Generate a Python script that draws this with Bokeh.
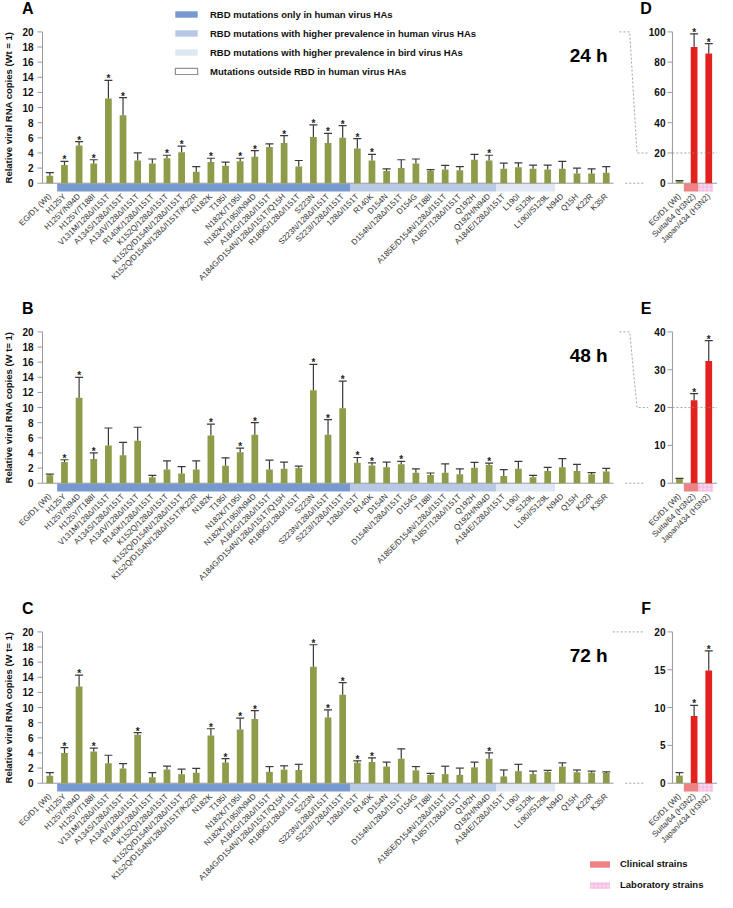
import math
from bokeh.plotting import figure
from bokeh.models import Range1d, ColumnDataSource, Label, Legend, LegendItem
from bokeh.layouts import column
from bokeh.embed import file_html
from bokeh.resources import INLINE
from bokeh.core.properties import value

# ---------------- data ----------------
mutations = ["EG/D1 (Wt)", "H125Y", "H125Y/N94D", "H125Y/T188I", "V131M/128Δ/I151T",
             "A134S/128Δ/I151T", "A134V/128Δ/I151T", "R140K/128Δ/I151T", "K152Q/128Δ/I151T",
             "K152Q/D154N/128Δ/I151T", "K152Q/D154N/128Δ/I151T/K22R", "N182K", "T195I",
             "N182K/T195I", "N182K/T195I/N94D", "A184G/128Δ/I151T", "A184G/D154N/128Δ/I151T/Q15H",
             "R189G/128Δ/I151T", "S223N", "S223N/128Δ/I151T", "S223I/128Δ/I151T", "128Δ/I151T",
             "R140K", "D154N", "D154N/128Δ/I151T", "D154G", "T188I", "A185E/D154N/128Δ/I151T",
             "A185T/128Δ/I151T", "Q192H", "Q192H/N94D", "A184E/128Δ/I151T", "L190I", "S129L",
             "L190I/S129L", "N94D", "Q15H", "K22R", "K35R"]
groups = (["wt"] + ["only"] * 20 + ["human"] * 10 + ["bird"] * 4 + ["outside"] * 4)

group_labels = {"only": "RBD mutations only in human virus HAs",
                "human": "RBD mutations with higher prevalence in human virus HAs",
                "bird": "RBD mutations with higher prevalence in bird virus HAs",
                "outside": "Mutations outside RBD in human virus HAs"}

y_ticks = [0, 2, 4, 6, 8, 10, 12, 14, 16, 18, 20]

# 24 h
v24 = [1.0, 2.4, 5.0, 2.6, 11.2, 9.0, 3.0, 2.6, 3.3, 4.1, 1.5, 2.8, 2.3, 2.9, 3.5, 4.8, 5.3, 2.2, 6.1,
       5.3, 6.0, 4.6, 3.0, 1.6, 2.0, 2.6, 1.65, 1.8, 1.7, 3.1, 3.0, 1.9, 2.1, 1.9, 1.8, 1.9, 1.3, 1.3, 1.4]
c24 = [1.4, 2.9, 5.5, 3.1, 13.6, 11.3, 4.0, 3.2, 3.7, 4.9, 2.2, 3.3, 2.8, 3.3, 4.3, 5.2, 6.3, 3.0, 7.7,
       6.6, 7.6, 5.9, 3.8, 1.9, 3.1, 3.2, 1.8, 2.35, 2.2, 3.8, 3.7, 2.65, 2.7, 2.4, 2.4, 2.9, 2.0, 1.9, 2.2]
s24 = [1, 2, 3, 4, 5, 8, 9, 11, 13, 14, 16, 18, 19, 20, 21, 22, 30]

# 48 h
v48 = [1.05, 2.8, 11.3, 3.2, 5.0, 3.7, 5.6, 0.8, 1.8, 1.3, 1.8, 6.3, 2.3, 4.1, 6.4, 1.8, 1.9, 2.0, 12.3,
       6.4, 9.9, 2.7, 2.35, 2.1, 2.5, 1.4, 1.1, 1.4, 1.2, 2.05, 2.4, 0.95, 1.9, 0.8, 1.6, 2.1, 1.6, 1.2,
       1.55]
c48 = [1.2, 3.1, 14.0, 4.0, 7.3, 5.4, 7.4, 1.05, 2.95, 2.2, 2.95, 7.8, 3.35, 4.65, 8.0, 3.05, 2.8, 2.25,
       15.7, 8.4, 13.5, 3.4, 2.7, 2.8, 2.9, 1.9, 1.35, 2.55, 1.9, 2.75, 2.65, 1.8, 2.9, 1.05, 2.1, 3.25,
       2.5, 1.4, 1.95]
s48 = [1, 2, 3, 11, 13, 14, 18, 19, 20, 21, 22, 24, 30]

# 72 h
v72 = [1.0, 4.0, 12.8, 4.2, 2.65, 1.95, 6.4, 0.8, 1.8, 1.2, 1.4, 6.3, 2.75, 7.1, 8.5, 1.5, 1.8, 1.75,
       15.4, 8.7, 11.7, 2.7, 2.8, 2.2, 3.25, 1.7, 1.1, 1.2, 1.1, 2.1, 3.25, 0.9, 1.6, 1.2, 1.5, 2.2,
       1.45, 1.4, 1.35]
c72 = [1.4, 4.7, 14.3, 4.65, 3.7, 2.6, 6.7, 1.4, 2.25, 1.85, 1.95, 7.2, 3.25, 8.6, 9.6, 2.2, 2.3, 2.5,
       18.3, 9.7, 13.3, 2.95, 3.35, 2.8, 4.55, 2.2, 1.3, 2.25, 2.0, 2.8, 4.0, 1.75, 2.5, 1.6, 1.7, 2.7,
       1.75, 1.6, 1.5]
s72 = [1, 2, 3, 6, 11, 12, 13, 14, 18, 19, 20, 21, 22, 30]

# reference strains (insets D, E, F)
strains = ["EG/D1 (Wt)", "Suita/64 (H3N2)", "Japan/434 (H3N2)"]
strain_kind = ["wt", "clinical", "laboratory"]
kind_labels = {"clinical": "Clinical strains", "laboratory": "Laboratory strains"}
d24 = [1.3, 90.0, 85.7]
dc24 = [1.7, 98.7, 92.2]
e48 = [1.1, 21.9, 32.3]
ec48 = [1.3, 23.7, 37.7]
f72 = [1.0, 8.9, 14.9]
fc72 = [1.4, 10.3, 17.5]
inset_stars = [1, 2]

# ---------------- style / layout ----------------
FONTNAME = "Liberation Sans"
FONT = value(FONTNAME)
OLIVE = "#8e9c4a"
RED = "#e3211f"
ERR = "#3a3a3a"
AXC = "#9a9a9a"
DASH = "#8c8c8c"
BAND = {"only": "#7899cf", "human": "#b6c8e4", "bird": "#dfe7f3"}
SALMON = "#ef8282"
PINK = "#fbd7ef"

W = 717
SLOT = 14.643        # px per category slot
LEFT_PX = 42         # px from canvas left to the main y axis
XS = -0.5 - LEFT_PX / SLOT
XE = XS + W / SLOT
PXU = 7.566          # px per unit on the main y axis
TOP20 = 31.4         # px between canvas top and the 20 level
YE = 20 + TOP20 / PXU
INSET0 = 43          # slot of the first inset bar
AX = 42.52           # slot of the inset y axis
BAR_W = 0.46
LBL_DROP = 12        # px from the zero line down to the category label anchor

def px(dx):
    return dx / SLOT

def build_row(letter, iletter, hours, vals, caps, stars, ivals, icaps, imax, istep, ytitle,
              height, legend_kind=None):
    factor = imax / 20.0
    YS = YE - height / PXU
    p = figure(width=W, height=height, x_range=Range1d(XS, XE), y_range=Range1d(YS, YE),
               output_backend="svg", toolbar_location=None, min_border=0,
               x_axis_type=None, y_axis_type=None)
    p.extra_y_ranges = {"inset": Range1d(YS * factor, YE * factor)}
    p.outline_line_color = None
    p.background_fill_color = "white"
    p.border_fill_color = "white"

    n = len(mutations)
    xs = list(range(n))

    # group bands below the axis
    band_r = {}
    for key in ["only", "human", "bird"]:
        idx = [i for i, g in enumerate(groups) if g == key]
        band_r[key] = p.quad(left=[min(idx) - 0.5], right=[max(idx) + 0.5], top=[-0.05],
                             bottom=[-1.1], fill_color=BAND[key], line_color=None)
    # legend swatch only (outside group has no visible band in the chart)
    band_r["outside"] = p.quad(left=[XE + 1], right=[XE + 2], top=[-0.05], bottom=[-1.1],
                               fill_color="white", line_color="#555555", line_width=0.8)

    # main axes
    p.segment(x0=[-0.5], y0=[0], x1=[n - 0.5], y1=[0], line_color=AXC, line_width=1)
    p.segment(x0=[-0.5], y0=[0], x1=[-0.5], y1=[20], line_color=AXC, line_width=1)
    p.segment(x0=[-0.5 - px(5)] * len(y_ticks), y0=y_ticks, x1=[-0.5] * len(y_ticks), y1=y_ticks,
              line_color=AXC, line_width=1)
    p.text(x=[-0.5 - px(9)] * len(y_ticks), y=y_ticks, text=[str(t) for t in y_ticks],
           text_align="right", text_baseline="middle", text_font=FONT, text_font_size="10px",
           text_font_style="bold", text_color="#111")
    p.text(x=[XS + px(7.5)], y=[10], text=[ytitle], angle=math.pi / 2, text_align="center",
           text_baseline="middle", text_font=FONT, text_font_size="9.5px",
           text_font_style="bold", text_color="#111")

    src = ColumnDataSource(dict(x=xs, v=vals, cap=caps))
    p.vbar(x="x", top="v", bottom=0, width=BAR_W, source=src, fill_color=OLIVE, line_color=None)
    p.segment(x0="x", y0="v", x1="x", y1="cap", source=src, line_color=ERR, line_width=1.2)
    p.scatter(x="x", y="cap", marker="dash", size=8, source=src, line_color=ERR, line_width=1.2)
    ssrc = ColumnDataSource(dict(x=[xs[i] for i in stars], y=[caps[i] for i in stars],
                                 t=["*"] * len(stars)))
    p.text(x="x", y="y", text="t", source=ssrc, text_align="center", text_baseline="alphabetic",
           text_font=FONT, text_font_size="10px", text_font_style="bold", text_color="#222",
           y_offset=-1.5)

    # inset (reference strains)
    ix = [INSET0 + j for j in range(len(strains))]
    isrc = ColumnDataSource(dict(x=ix, v=ivals, cap=icaps,
                                 c=[OLIVE if k == "wt" else RED for k in strain_kind]))
    blk_r = {}
    for k, col, hatch in [("clinical", SALMON, None), ("laboratory", PINK, "cross")]:
        j = strain_kind.index(k)
        kw = dict(fill_color=col, line_color=None)
        if hatch:
            kw.update(hatch_pattern=hatch, hatch_color="#f3a6d6", hatch_scale=4, hatch_weight=0.7)
        blk_r[k] = p.quad(left=[ix[j] - 0.7], right=[ix[j] + 0.3], top=[-0.05], bottom=[-1.1], **kw)
    p.segment(x0=[AX], y0=[0], x1=[XE], y1=[0], line_color=AXC, line_width=1)
    p.vbar(x="x", top="v", bottom=0, width=BAR_W, source=isrc, fill_color="c", line_color=None,
           y_range_name="inset")
    p.segment(x0="x", y0="v", x1="x", y1="cap", source=isrc, line_color=ERR, line_width=1.2,
              y_range_name="inset")
    p.scatter(x="x", y="cap", marker="dash", size=8, source=isrc, line_color=ERR, line_width=1.2,
              y_range_name="inset")
    issrc = ColumnDataSource(dict(x=[ix[i] for i in inset_stars], y=[icaps[i] for i in inset_stars],
                                  t=["*"] * len(inset_stars)))
    p.text(x="x", y="y", text="t", source=issrc, text_align="center", text_baseline="alphabetic",
           text_font=FONT, text_font_size="10px", text_font_style="bold", text_color="#222",
           y_offset=-1.5, y_range_name="inset")
    # inset y axis
    iticks = list(range(0, imax + 1, istep))
    p.segment(x0=[AX], y0=[0], x1=[AX], y1=[imax], line_color=AXC, line_width=1,
              y_range_name="inset")
    p.segment(x0=[AX - px(5)] * len(iticks), y0=iticks, x1=[AX] * len(iticks), y1=iticks,
              line_color=AXC, line_width=1, y_range_name="inset")
    p.text(x=[AX - px(7)] * len(iticks), y=iticks, text=[str(t) for t in iticks],
           y_range_name="inset", text_align="right", text_baseline="middle", text_font=FONT,
           text_font_size="10px", text_font_style="bold", text_color="#111")

    # category labels (main + inset), rotated 45 degrees
    lsrc = ColumnDataSource(dict(x=xs + ix, y=[0] * (n + len(ix)), t=mutations + strains))
    p.text(x="x", y="y", text="t", source=lsrc, angle=math.pi / 4, text_align="right",
           text_baseline="middle", y_offset=LBL_DROP, text_font=FONT, text_font_size="8px",
           text_color="#333")

    # dashed connectors between the main panel and the inset
    lvl = 20.0 / factor
    if lvl < 20:
        p.line(x=[38.9, 39.6, 40.1, 40.85], y=[20, 20, lvl, lvl], line_color=DASH, line_width=0.8,
               line_dash="2 2")
        p.line(x=[AX, XE], y=[lvl, lvl], line_color=DASH, line_width=0.8, line_dash="2 2")
    else:
        p.line(x=[38.44, 40.6], y=[20, 20], line_color=DASH, line_width=0.8, line_dash="2 2")
    p.line(x=[39.3, 40.6], y=[0, 0], line_color=DASH, line_width=0.8, line_dash="2 2")

    # texts
    p.add_layout(Label(x=27.4, y=height - 8, x_units="screen", y_units="screen", text=letter,
                       text_font=FONTNAME, text_font_size="16px", text_font_style="bold",
                       text_align="center", text_baseline="middle", text_color="#000"))
    p.add_layout(Label(x=645.6, y=height - 8, x_units="screen", y_units="screen", text=iletter,
                       text_font=FONTNAME, text_font_size="16px", text_font_style="bold",
                       text_align="center", text_baseline="middle", text_color="#000"))
    p.add_layout(Label(x=36.8, y=16.9, text=hours, text_font=FONTNAME, text_font_size="19px",
                       text_font_style="bold", text_align="center", text_baseline="middle",
                       text_color="#000"))

    if legend_kind == "groups":
        items = [LegendItem(label=group_labels[k], renderers=[band_r[k]])
                 for k in ["only", "human", "bird", "outside"]]
        lg = Legend(items=items, location=(172, height - 76.5), glyph_width=28, glyph_height=8,
                    label_height=8, label_standoff=10, spacing=8, padding=0, margin=0,
                    border_line_color=None, background_fill_alpha=0,
                    label_text_font=FONTNAME, label_text_font_style="bold",
                    label_text_font_size="9.5px", label_text_color="#111")
        p.add_layout(lg)
    elif legend_kind == "strains":
        items = [LegendItem(label=kind_labels[k], renderers=[blk_r[k]])
                 for k in ["clinical", "laboratory"]]
        lg = Legend(items=items, location=(587, 2), glyph_width=25, glyph_height=8,
                    label_height=8, label_standoff=8, spacing=10, padding=0, margin=0,
                    border_line_color=None, background_fill_alpha=0,
                    label_text_font=FONTNAME, label_text_font_style="bold",
                    label_text_font_size="9.5px", label_text_color="#111")
        p.add_layout(lg)
    return p

pA = build_row("A", "D", "24 h", v24, c24, s24, d24, dc24, 100, 20,
               "Relative viral RNA copies (Wt = 1)", 300, "groups")
pB = build_row("B", "E", "48 h", v48, c48, s48, e48, ec48, 40, 10,
               "Relative viral RNA copies (W t= 1)", 300)
pC = build_row("C", "F", "72 h", v72, c72, s72, f72, fc72, 20, 5,
               "Relative viral RNA copies (W t= 1)", 292, "strains")

layout = column(pA, pB, pC, spacing=0)
open("out.html", "w").write(file_html(layout, INLINE))
